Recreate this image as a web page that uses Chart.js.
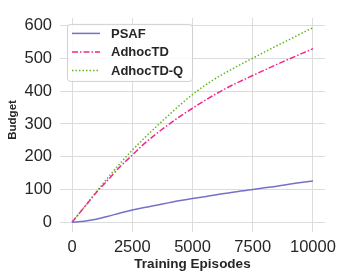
<!DOCTYPE html>
<html>
<head>
<meta charset="utf-8">
<script src="https://cdn.jsdelivr.net/npm/chart.js@4"></script>
<style>
  html, body { margin: 0; padding: 0; background: #fff; }
  #wrap { width: 346px; height: 277px; }
</style>
</head>
<body>
<div id="wrap"><canvas id="budgetChart" width="346" height="277"></canvas></div>
<script>
// training episodes (x values)
const episodes = [0, 500, 1000, 1500, 2000, 2500, 3000, 3500, 4000, 4500, 5000,
  5500, 6000, 6500, 7000, 7500, 8000, 8500, 9000, 9500, 10000];
const psaf = [0, 3, 9, 18, 28, 37, 45, 52, 59, 66, 72, 78, 84, 89, 95, 100, 105, 110, 116, 121, 126];
const adhocTD = [0, 45, 90, 130, 170, 205, 240, 270, 298, 324, 348, 371, 393, 413, 431, 448, 465, 482, 498, 514, 530];
const adhocTDQ = [0, 45, 92, 137, 180, 220, 257, 292, 326, 359, 390, 417, 441, 462, 482, 501, 520, 539, 557, 576, 594];
const xTicks = [0, 2500, 5000, 7500, 10000];
const yTicks = [0, 100, 200, 300, 400, 500, 600];

const textColor = '#262626';
const gridColor = '#dcdcdc';
const font = 'Liberation Sans, Arial, sans-serif';

const toPoints = ys => episodes.map((x, i) => ({ x, y: ys[i] }));

// legend drawn inside the plot, upper left (like matplotlib)
const innerLegend = {
  id: 'innerLegend',
  afterDraw(chart) {
    const ctx = chart.ctx;
    const area = chart.chartArea;
    const x0 = area.left + 7, y0 = area.top + 6;
    const w = 125, h = 57;
    ctx.save();
    ctx.fillStyle = 'rgba(255,255,255,0.85)';
    ctx.strokeStyle = '#d0d0d0';
    ctx.lineWidth = 1;
    ctx.beginPath();
    ctx.roundRect(x0 + 0.5, y0 + 0.5, w, h, 3);
    ctx.fill();
    ctx.stroke();
    chart.data.datasets.forEach((ds, i) => {
      const y = y0 + 9.5 + i * 18.5;
      ctx.strokeStyle = ds.borderColor;
      ctx.lineWidth = ds.borderWidth;
      ctx.setLineDash(ds.borderDash || []);
      ctx.beginPath();
      ctx.moveTo(x0 + 5, y);
      ctx.lineTo(x0 + 33, y);
      ctx.stroke();
      ctx.setLineDash([]);
      ctx.fillStyle = textColor;
      ctx.font = 'bold 13px ' + font;
      ctx.textBaseline = 'middle';
      ctx.fillText(ds.label, x0 + 44, y + 1);
    });
    // y axis title, sits a bit above the plot centre like the original
    ctx.save();
    ctx.translate(13, (area.top + area.bottom) / 2 - 5);
    ctx.rotate(-Math.PI / 2);
    ctx.font = 'bold 11.5px ' + font;
    ctx.textAlign = 'center';
    ctx.textBaseline = 'middle';
    ctx.fillText('Budget', 0, 0);
    ctx.restore();
    ctx.restore();
  }
};

new Chart(document.getElementById('budgetChart'), {
  type: 'line',
  data: {
    datasets: [
      {
        label: 'PSAF',
        data: toPoints(psaf),
        borderColor: '#7570c8',
        borderWidth: 1.5,
        pointRadius: 0,
        cubicInterpolationMode: 'monotone',
      },
      {
        label: 'AdhocTD',
        data: toPoints(adhocTD),
        borderColor: '#f0288c',
        borderWidth: 1.5,
        borderDash: [6, 2, 1.5, 2],
        pointRadius: 0,
        cubicInterpolationMode: 'monotone',
      },
      {
        label: 'AdhocTD-Q',
        data: toPoints(adhocTDQ),
        borderColor: '#62b81e',
        borderWidth: 1.5,
        borderDash: [1.5, 2],
        pointRadius: 0,
        cubicInterpolationMode: 'monotone',
      },
    ],
  },
  options: {
    responsive: false,
    animation: false,
    layout: { padding: { left: 0, right: 21, top: 9, bottom: 0 } },
    plugins: {
      legend: { display: false },
      tooltip: { enabled: false },
    },
    scales: {
      x: {
        type: 'linear',
        min: -500,
        max: 10500,
        afterBuildTicks: axis => { axis.ticks = xTicks.map(v => ({ value: v })); },
        afterFit: axis => { axis.height = 45; },
        ticks: {
          color: textColor,
          font: { family: font, size: 16.5 },
          padding: 6,
          maxRotation: 0,
          callback: v => String(v),
        },
        grid: { color: gridColor, drawTicks: false },
        border: { display: false },
        title: {
          display: true,
          text: 'Training Episodes',
          color: textColor,
          font: { family: font, size: 13.5, weight: 'bold' },
          padding: { top: 0, bottom: 5 },
        },
      },
      y: {
        min: -30,
        max: 624,
        afterBuildTicks: axis => { axis.ticks = yTicks.map(v => ({ value: v })); },
        afterFit: axis => { axis.width = 60; },
        ticks: {
          color: textColor,
          font: { family: font, size: 16.5 },
          padding: 8,
          callback: v => String(v),
        },
        grid: { color: gridColor, drawTicks: false },
        border: { display: false },
      },
    },
  },
  plugins: [innerLegend],
});
</script>
</body>
</html>
